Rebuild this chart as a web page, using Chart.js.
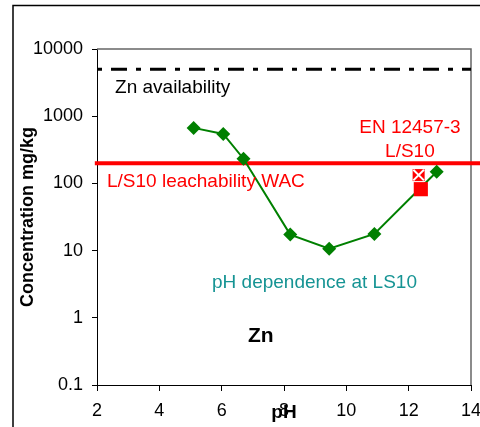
<!DOCTYPE html>
<html>
<head>
<meta charset="utf-8">
<title>Zn - pH dependence at LS10</title>
<script src="https://cdn.jsdelivr.net/npm/chart.js@4.4.1/dist/chart.umd.min.js"></script>
<style>
    body { margin: 0; background: #fff; }
    canvas { display: block; }
</style>
</head>
<body>
<canvas id="zn-chart" width="480" height="427"></canvas>
<script>
// pH dependence test at LS10
const phValues = [5.1, 6.05, 6.7, 8.2, 9.45, 10.9, 12.9];
const znConc = [670, 545, 233, 17.3, 10.7, 17.7, 149];

// EN 12457-3 results at L/S10
const enPh = [12.39];
const enConc = [82];
const enCrossPh = [12.32];
const enCrossConc = [133];

// reference levels
const availabilityLevel = 5000;
const wacLevel = 200;

// axis ticks
const xTicks = [2, 4, 6, 8, 10, 12, 14];
const yTicks = [0.1, 1, 10, 100, 1000, 10000];

const toPoints = (xs, ys) => xs.map((v, i) => ({x: v, y: ys[i]}));

Chart.defaults.font.family = "'Liberation Sans', Arial, sans-serif";
Chart.defaults.color = "#000";

// text notes, anchored in data units
const notes = [
    {text: "Zn availability", ph: 2.58, conc: 2190, color: "#000", font: "19px 'Liberation Sans'", align: "left"},
    {text: "EN 12457-3", ph: 12.04, conc: 568, color: "#ff0000", font: "19px 'Liberation Sans'", align: "center"},
    {text: "L/S10", ph: 12.04, conc: 244, color: "#ff0000", font: "19px 'Liberation Sans'", align: "center"},
    {text: "L/S10 leachability WAC", ph: 2.32, conc: 87.5, color: "#ff0000", font: "19px 'Liberation Sans'", align: "left"},
    {text: "pH dependence at LS10", ph: 5.69, conc: 2.75, color: "#169494", font: "19px 'Liberation Sans'", align: "left"},
    {text: "Zn", ph: 6.845, conc: 0.44, color: "#000", font: "bold 21px 'Liberation Sans'", align: "left"}
];

var decorations = {
    id: "decorations",
    beforeDraw: function (chart) {
        var ctx = chart.ctx;
        ctx.save();
        ctx.strokeStyle = "#000";
        ctx.lineWidth = 1.5;
        ctx.strokeRect(13, 5.5, 600, 600);
        ctx.restore();
    },
    beforeDatasetsDraw: function (chart) {
        var ctx = chart.ctx, a = chart.chartArea;
        ctx.save();
        ctx.strokeStyle = "#666";
        ctx.lineWidth = 1.5;
        ctx.beginPath();
        ctx.moveTo(a.left, a.top);
        ctx.lineTo(a.right, a.top);
        ctx.lineTo(a.right, a.bottom);
        ctx.stroke();
        ctx.restore();
    },
    afterDraw: function (chart) {
        var ctx = chart.ctx, x = chart.scales.x, y = chart.scales.y;
        ctx.save();
        ctx.textBaseline = "alphabetic";
        notes.forEach(function (n) {
            ctx.font = n.font;
            ctx.fillStyle = n.color;
            ctx.textAlign = n.align;
            ctx.fillText(n.text, x.getPixelForValue(n.ph), y.getPixelForValue(n.conc));
        });
        ctx.restore();
    }
};

var ctx1 = document.getElementById("zn-chart").getContext("2d");
var znChart = new Chart(ctx1, {
    type: "scatter",
    data: {
        datasets: [{
                label: "EN 12457-3 (x)",
                data: toPoints(enCrossPh, enCrossConc),
                pointStyle: "crossRot",
                pointRadius: 7.5,
                borderColor: "#fff",
                pointBorderWidth: 2,
                showLine: false
            },
            {
                label: "EN 12457-3 (x bg)",
                data: toPoints(enCrossPh, enCrossConc),
                pointStyle: "rect",
                pointRadius: 8.5,
                backgroundColor: "#ff0000",
                borderColor: "#ff0000",
                pointBorderWidth: 0,
                showLine: false
            },
            {
                label: "EN 12457-3",
                data: toPoints(enPh, enConc),
                pointStyle: "rect",
                pointRadius: 10,
                backgroundColor: "#ff0000",
                borderColor: "#ff0000",
                pointBorderWidth: 0,
                showLine: false
            },
            {
                label: "pH dependence at LS10",
                data: toPoints(phValues, znConc),
                showLine: true,
                borderColor: "#008000",
                borderWidth: 2,
                backgroundColor: "#008000",
                pointStyle: "rectRot",
                pointRadius: 7,
                pointBorderWidth: 0
            },
            {
                label: "L/S10 leachability WAC",
                data: [{x: 1.93, y: wacLevel}, {x: 14.3, y: wacLevel}],
                showLine: true,
                borderColor: "#ff0000",
                borderWidth: 4,
                pointRadius: 0,
                clip: false
            },
            {
                label: "Zn availability",
                data: [{x: xTicks[0], y: availabilityLevel}, {x: xTicks[xTicks.length - 1], y: availabilityLevel}],
                showLine: true,
                borderColor: "#000",
                borderWidth: 3,
                borderDash: [5, 9, 16, 9],
                pointRadius: 0
            }
        ]
    },
    options: {
        responsive: false,
        animation: false,
        layout: {
            autoPadding: false,
            padding: {top: 49, right: 9, bottom: 0, left: 0}
        },
        plugins: {
            legend: {display: false},
            tooltip: {enabled: false}
        },
        scales: {
            x: {
                type: "linear",
                min: xTicks[0],
                max: xTicks[xTicks.length - 1],
                afterFit: function (scale) {
                    scale.height = 42;
                    scale.paddingLeft = 0;
                    scale.paddingRight = 0;
                },
                afterBuildTicks: function (scale) {
                    scale.ticks = xTicks.map(function (v) { return {value: v}; });
                },
                grid: {drawOnChartArea: false, tickLength: 6, color: "#000"},
                border: {color: "#000", width: 1},
                ticks: {font: {size: 18}, padding: 9, maxRotation: 0},
                title: {display: true, text: "pH", font: {size: 19, weight: "bold"}, padding: {top: 0, bottom: 3}}
            },
            y: {
                type: "logarithmic",
                min: yTicks[0],
                max: yTicks[yTicks.length - 1],
                afterFit: function (scale) {
                    scale.width = 97;
                    scale.paddingTop = 0;
                    scale.paddingBottom = 0;
                },
                afterBuildTicks: function (scale) {
                    scale.ticks = yTicks.map(function (v) { return {value: v}; });
                },
                grid: {drawOnChartArea: false, tickLength: 5, color: "#000"},
                border: {color: "#000", width: 1},
                ticks: {
                    font: {size: 18},
                    padding: 9,
                    callback: function (value) { return String(value); }
                },
                title: {display: true, text: "Concentration mg/kg", font: {size: 18, weight: "bold"}, padding: {top: 17, bottom: 0}}
            }
        }
    },
    plugins: [decorations]
});
</script>
</body>
</html>
